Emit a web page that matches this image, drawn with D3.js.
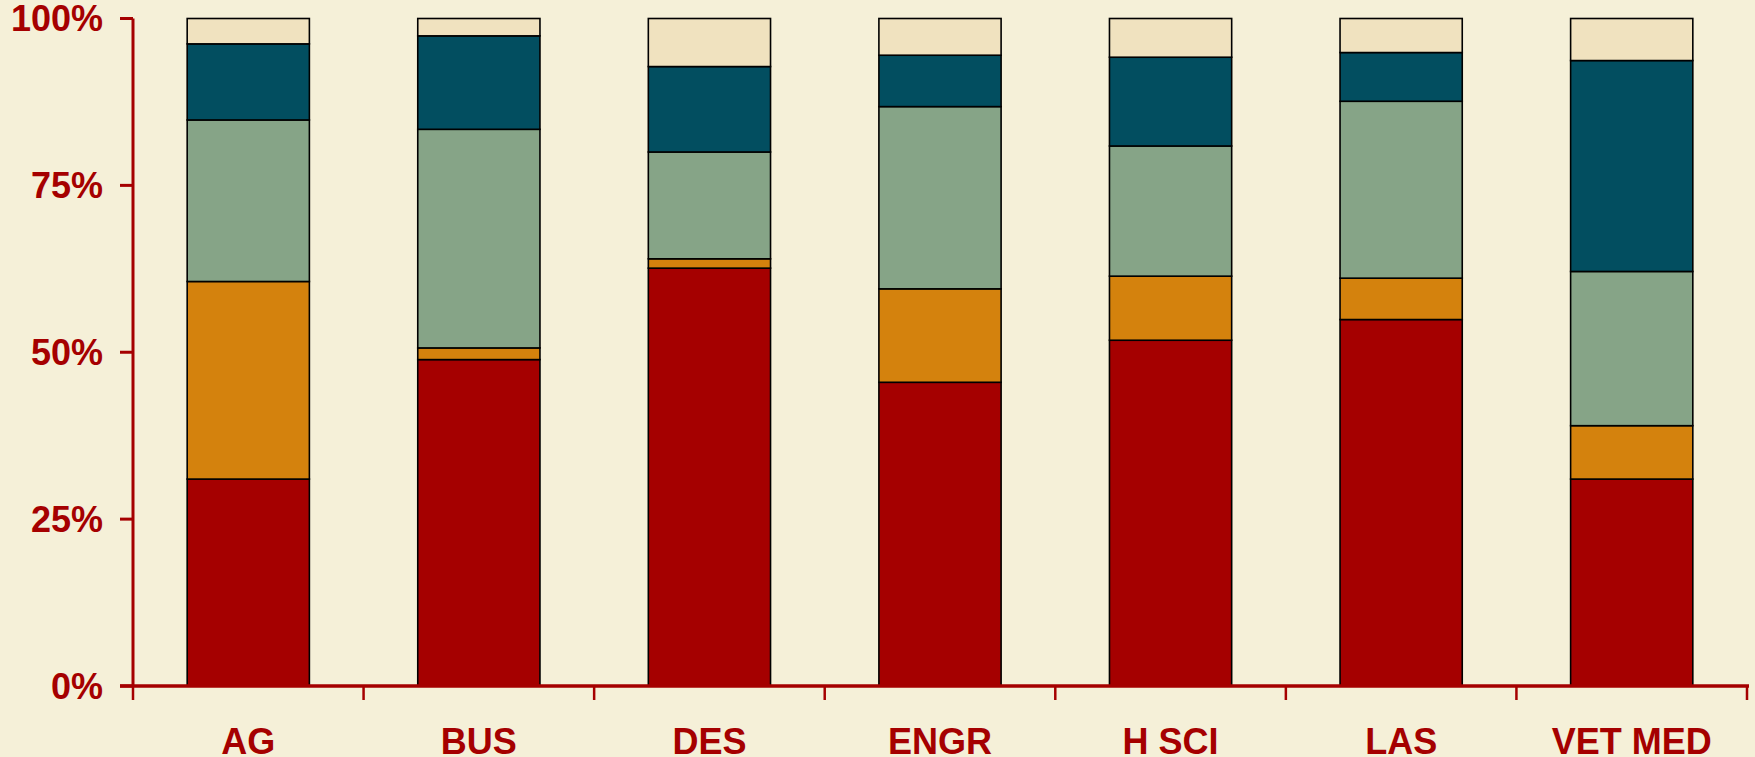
<!DOCTYPE html>
<html><head><meta charset="utf-8">
<script src="https://cdn.jsdelivr.net/npm/d3@7"></script>
<style>html,body{margin:0;padding:0;background:#F5F0D8;}svg{display:block;}</style>
</head><body>
<svg id="chart" width="1755" height="757"></svg>
<script>
const categories = ["AG","BUS","DES","ENGR","H SCI","LAS","VET MED"];
const seriesNames = ["s1","s2","s3","s4","s5"];
const s1 = [31.0, 48.9, 62.6, 45.5, 51.8, 54.9, 31.0];
const s2 = [29.6, 1.75, 1.4, 14.0, 9.6, 6.2, 8.0];
const s3 = [24.2, 32.75, 16.0, 27.3, 19.5, 26.5, 23.1];
const s4 = [11.4, 14.0, 12.8, 7.7, 13.3, 7.3, 31.6];
const s5 = [3.8, 2.6, 7.2, 5.5, 5.8, 5.1, 6.3];
const yTicks = [0, 25, 50, 75, 100];
const colors = ["#A50000","#D4820D","#86A487","#024E60","#F0E2BF"];
const axisColor = "#A50000";

const rows = categories.map((c,i)=>({cat:c, s1:s1[i], s2:s2[i], s3:s3[i], s4:s4[i], s5:s5[i]}));
const stack = d3.stack().keys(seriesNames).offset(d3.stackOffsetExpand);
const layers = stack(rows);

const svg = d3.select("#chart");
const x = d3.scaleBand().domain(categories).range([133, 1747]).paddingInner(0).paddingOuter(0);
const y = d3.scaleLinear().domain([0,1]).range([686, 18.5]);
const barW = x.bandwidth()*0.53;

const g = svg.append("g");
g.selectAll("g.layer").data(layers).join("g").attr("class","layer")
  .attr("fill",(d,i)=>colors[i])
  .selectAll("rect").data(d=>d).join("rect")
  .attr("x", d=> x(d.data.cat) + x.bandwidth()/2 - barW/2)
  .attr("width", barW)
  .attr("y", d=> y(d[1]))
  .attr("height", d=> y(d[0]) - y(d[1]))
  .attr("stroke","#000").attr("stroke-width",1.6);

// Y axis
svg.append("line").attr("x1",133).attr("x2",133).attr("y1",y(1)).attr("y2",y(0))
  .attr("stroke",axisColor).attr("stroke-width",3);
svg.selectAll("line.yt").data(yTicks).join("line").attr("class","yt")
  .attr("x1",120).attr("x2",133).attr("y1",d=>y(d/100)).attr("y2",d=>y(d/100))
  .attr("stroke",axisColor).attr("stroke-width",3);
svg.selectAll("text.yl").data(yTicks).join("text").attr("class","yl")
  .attr("x",103).attr("y",d=>y(d/100)).attr("dy","0.36em")
  .attr("text-anchor","end").attr("fill",axisColor)
  .attr("font-family","Liberation Sans, Arial, sans-serif").attr("font-weight","bold").attr("font-size",36)
  .text(d=>d+"%");

// X axis
svg.append("line").attr("x1",120).attr("x2",1749).attr("y1",y(0)).attr("y2",y(0))
  .attr("stroke",axisColor).attr("stroke-width",3.5);
const bounds = categories.map(c=>x(c)).concat([x(categories[categories.length-1])+x.bandwidth()]);
svg.selectAll("line.xt").data(bounds).join("line").attr("class","xt")
  .attr("x1",d=>d).attr("x2",d=>d).attr("y1",y(0)).attr("y2",y(0)+14)
  .attr("stroke",axisColor).attr("stroke-width",2.5);
svg.selectAll("text.xl").data(categories).join("text").attr("class","xl")
  .attr("x",d=>x(d)+x.bandwidth()/2).attr("y",754)
  .attr("text-anchor","middle").attr("fill",axisColor)
  .attr("font-family","Liberation Sans, Arial, sans-serif").attr("font-weight","bold").attr("font-size",36)
  .text(d=>d);
</script>
</body></html>
